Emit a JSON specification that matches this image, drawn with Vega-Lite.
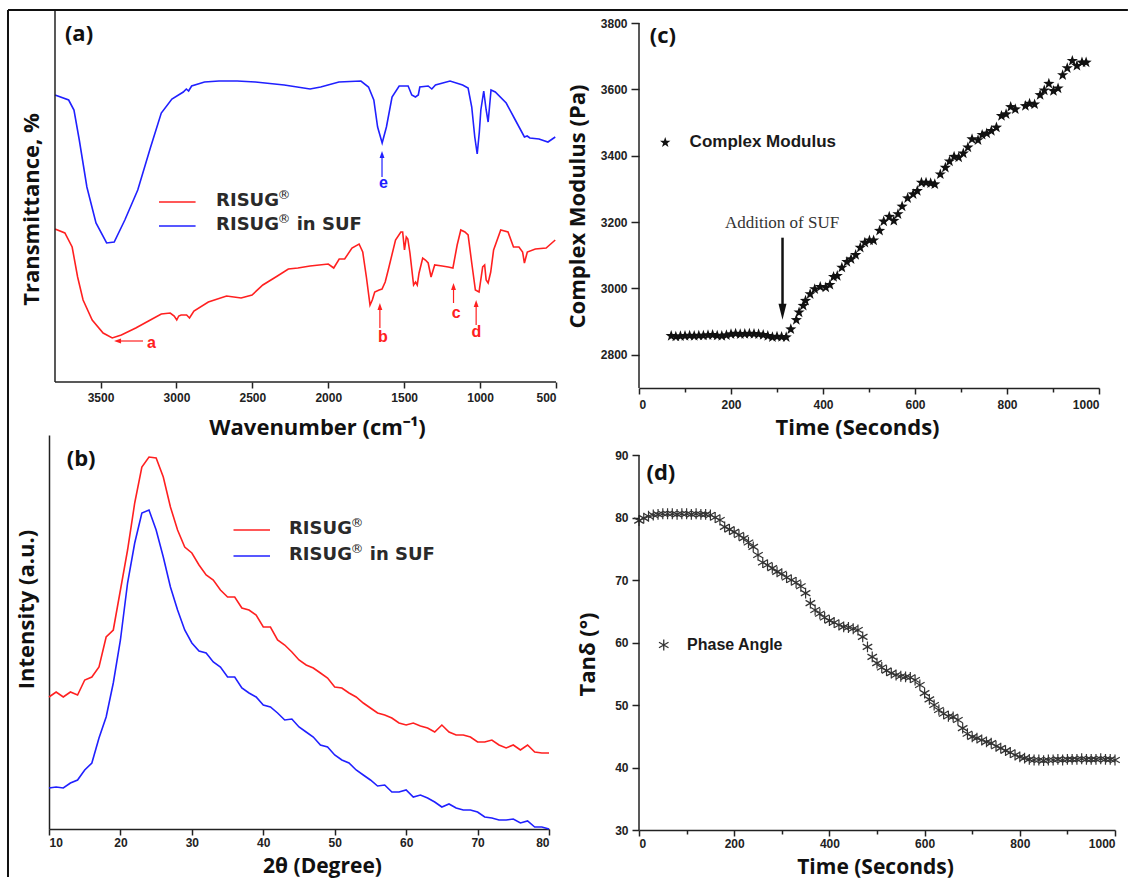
{
"$schema": "https://vega.github.io/schema/vega-lite/v6.json",
"padding": {"left": 6, "top": 9, "right": 0, "bottom": 0},
"background": "white",
"columns": 2,
"bounds": "flush",
"spacing": {"row": 47, "column": 83},
"datasets": {
"ftir": [
{"wn":3800,"v":287,"s":"RISUG® in SUF"},{"wn":3710,"v":282,"s":"RISUG® in SUF"},{"wn":3675,"v":272,"s":"RISUG® in SUF"},{"wn":3640,"v":242,"s":"RISUG® in SUF"},{"wn":3590,"v":195,"s":"RISUG® in SUF"},{"wn":3530,"v":159,"s":"RISUG® in SUF"},{"wn":3460,"v":139,"s":"RISUG® in SUF"},{"wn":3410,"v":140,"s":"RISUG® in SUF"},{"wn":3340,"v":162,"s":"RISUG® in SUF"},{"wn":3255,"v":192,"s":"RISUG® in SUF"},{"wn":3170,"v":235,"s":"RISUG® in SUF"},{"wn":3100,"v":269,"s":"RISUG® in SUF"},{"wn":3030,"v":283,"s":"RISUG® in SUF"},{"wn":2955,"v":290,"s":"RISUG® in SUF"},{"wn":2935,"v":293,"s":"RISUG® in SUF"},{"wn":2920,"v":291,"s":"RISUG® in SUF"},{"wn":2900,"v":296,"s":"RISUG® in SUF"},{"wn":2815,"v":300,"s":"RISUG® in SUF"},{"wn":2720,"v":301,"s":"RISUG® in SUF"},{"wn":2600,"v":301,"s":"RISUG® in SUF"},{"wn":2480,"v":300,"s":"RISUG® in SUF"},{"wn":2290,"v":297,"s":"RISUG® in SUF"},{"wn":2120,"v":293,"s":"RISUG® in SUF"},{"wn":2050,"v":295,"s":"RISUG® in SUF"},{"wn":1930,"v":300,"s":"RISUG® in SUF"},{"wn":1785,"v":301,"s":"RISUG® in SUF"},{"wn":1735,"v":295,"s":"RISUG® in SUF"},{"wn":1700,"v":282,"s":"RISUG® in SUF"},{"wn":1675,"v":255,"s":"RISUG® in SUF"},{"wn":1645,"v":239,"s":"RISUG® in SUF"},{"wn":1617,"v":255,"s":"RISUG® in SUF"},{"wn":1580,"v":285,"s":"RISUG® in SUF"},{"wn":1533,"v":296,"s":"RISUG® in SUF"},{"wn":1474,"v":296,"s":"RISUG® in SUF"},{"wn":1450,"v":287,"s":"RISUG® in SUF"},{"wn":1426,"v":285,"s":"RISUG® in SUF"},{"wn":1407,"v":287,"s":"RISUG® in SUF"},{"wn":1397,"v":295,"s":"RISUG® in SUF"},{"wn":1342,"v":296,"s":"RISUG® in SUF"},{"wn":1318,"v":293,"s":"RISUG® in SUF"},{"wn":1294,"v":297,"s":"RISUG® in SUF"},{"wn":1198,"v":301,"s":"RISUG® in SUF"},{"wn":1115,"v":297,"s":"RISUG® in SUF"},{"wn":1079,"v":294,"s":"RISUG® in SUF"},{"wn":1055,"v":275,"s":"RISUG® in SUF"},{"wn":1035,"v":245,"s":"RISUG® in SUF"},{"wn":1019,"v":228,"s":"RISUG® in SUF"},{"wn":1005,"v":250,"s":"RISUG® in SUF"},{"wn":995,"v":272,"s":"RISUG® in SUF"},{"wn":976,"v":291,"s":"RISUG® in SUF"},{"wn":960,"v":272,"s":"RISUG® in SUF"},{"wn":947,"v":260,"s":"RISUG® in SUF"},{"wn":938,"v":275,"s":"RISUG® in SUF"},{"wn":928,"v":292,"s":"RISUG® in SUF"},{"wn":900,"v":290,"s":"RISUG® in SUF"},{"wn":828,"v":279,"s":"RISUG® in SUF"},{"wn":768,"v":262,"s":"RISUG® in SUF"},{"wn":708,"v":245,"s":"RISUG® in SUF"},{"wn":690,"v":246,"s":"RISUG® in SUF"},{"wn":672,"v":244,"s":"RISUG® in SUF"},{"wn":612,"v":243,"s":"RISUG® in SUF"},{"wn":553,"v":240,"s":"RISUG® in SUF"},{"wn":505,"v":245,"s":"RISUG® in SUF"},
{"wn":3800,"v":153,"s":"RISUG®"},{"wn":3735,"v":149,"s":"RISUG®"},{"wn":3687,"v":135,"s":"RISUG®"},{"wn":3651,"v":105,"s":"RISUG®"},{"wn":3615,"v":82,"s":"RISUG®"},{"wn":3555,"v":62,"s":"RISUG®"},{"wn":3483,"v":49,"s":"RISUG®"},{"wn":3423,"v":44,"s":"RISUG®"},{"wn":3363,"v":47,"s":"RISUG®"},{"wn":3268,"v":54,"s":"RISUG®"},{"wn":3172,"v":62,"s":"RISUG®"},{"wn":3100,"v":68,"s":"RISUG®"},{"wn":3041,"v":69,"s":"RISUG®"},{"wn":3015,"v":66,"s":"RISUG®"},{"wn":2998,"v":62,"s":"RISUG®"},{"wn":2985,"v":66,"s":"RISUG®"},{"wn":2969,"v":67,"s":"RISUG®"},{"wn":2933,"v":67,"s":"RISUG®"},{"wn":2914,"v":64,"s":"RISUG®"},{"wn":2885,"v":71,"s":"RISUG®"},{"wn":2790,"v":80,"s":"RISUG®"},{"wn":2670,"v":86,"s":"RISUG®"},{"wn":2574,"v":84,"s":"RISUG®"},{"wn":2502,"v":87,"s":"RISUG®"},{"wn":2431,"v":97,"s":"RISUG®"},{"wn":2335,"v":106,"s":"RISUG®"},{"wn":2263,"v":113,"s":"RISUG®"},{"wn":2200,"v":114,"s":"RISUG®"},{"wn":2120,"v":116,"s":"RISUG®"},{"wn":2000,"v":118,"s":"RISUG®"},{"wn":1964,"v":114,"s":"RISUG®"},{"wn":1928,"v":123,"s":"RISUG®"},{"wn":1892,"v":123,"s":"RISUG®"},{"wn":1844,"v":134,"s":"RISUG®"},{"wn":1797,"v":138,"s":"RISUG®"},{"wn":1773,"v":130,"s":"RISUG®"},{"wn":1749,"v":105,"s":"RISUG®"},{"wn":1725,"v":77,"s":"RISUG®"},{"wn":1710,"v":82,"s":"RISUG®"},{"wn":1694,"v":90,"s":"RISUG®"},{"wn":1665,"v":92,"s":"RISUG®"},{"wn":1646,"v":93,"s":"RISUG®"},{"wn":1625,"v":100,"s":"RISUG®"},{"wn":1605,"v":112,"s":"RISUG®"},{"wn":1557,"v":142,"s":"RISUG®"},{"wn":1522,"v":150,"s":"RISUG®"},{"wn":1510,"v":150,"s":"RISUG®"},{"wn":1498,"v":132,"s":"RISUG®"},{"wn":1486,"v":145,"s":"RISUG®"},{"wn":1476,"v":143,"s":"RISUG®"},{"wn":1462,"v":129,"s":"RISUG®"},{"wn":1438,"v":97,"s":"RISUG®"},{"wn":1425,"v":100,"s":"RISUG®"},{"wn":1414,"v":97,"s":"RISUG®"},{"wn":1402,"v":109,"s":"RISUG®"},{"wn":1378,"v":124,"s":"RISUG®"},{"wn":1360,"v":122,"s":"RISUG®"},{"wn":1342,"v":119,"s":"RISUG®"},{"wn":1323,"v":105,"s":"RISUG®"},{"wn":1299,"v":117,"s":"RISUG®"},{"wn":1250,"v":116,"s":"RISUG®"},{"wn":1210,"v":115,"s":"RISUG®"},{"wn":1179,"v":114,"s":"RISUG®"},{"wn":1151,"v":137,"s":"RISUG®"},{"wn":1127,"v":152,"s":"RISUG®"},{"wn":1100,"v":150,"s":"RISUG®"},{"wn":1079,"v":147,"s":"RISUG®"},{"wn":1055,"v":119,"s":"RISUG®"},{"wn":1031,"v":92,"s":"RISUG®"},{"wn":1007,"v":90,"s":"RISUG®"},{"wn":983,"v":115,"s":"RISUG®"},{"wn":970,"v":117,"s":"RISUG®"},{"wn":960,"v":102,"s":"RISUG®"},{"wn":947,"v":99,"s":"RISUG®"},{"wn":930,"v":110,"s":"RISUG®"},{"wn":911,"v":132,"s":"RISUG®"},{"wn":864,"v":152,"s":"RISUG®"},{"wn":816,"v":150,"s":"RISUG®"},{"wn":780,"v":135,"s":"RISUG®"},{"wn":744,"v":135,"s":"RISUG®"},{"wn":720,"v":130,"s":"RISUG®"},{"wn":708,"v":119,"s":"RISUG®"},{"wn":689,"v":130,"s":"RISUG®"},{"wn":636,"v":133,"s":"RISUG®"},{"wn":565,"v":134,"s":"RISUG®"},{"wn":505,"v":142,"s":"RISUG®"}
],
"xrd": [
{"deg":10,"v":132,"s":"RISUG®"},{"deg":11,"v":137,"s":"RISUG®"},{"deg":12,"v":132,"s":"RISUG®"},{"deg":13,"v":137,"s":"RISUG®"},{"deg":14,"v":134,"s":"RISUG®"},{"deg":15,"v":149,"s":"RISUG®"},{"deg":16,"v":152,"s":"RISUG®"},{"deg":17,"v":162,"s":"RISUG®"},{"deg":18,"v":192,"s":"RISUG®"},{"deg":19,"v":199,"s":"RISUG®"},{"deg":20,"v":239,"s":"RISUG®"},{"deg":21,"v":279,"s":"RISUG®"},{"deg":22,"v":326,"s":"RISUG®"},{"deg":23,"v":362,"s":"RISUG®"},{"deg":24,"v":372,"s":"RISUG®"},{"deg":25,"v":371,"s":"RISUG®"},{"deg":26,"v":352,"s":"RISUG®"},{"deg":27,"v":322,"s":"RISUG®"},{"deg":28,"v":299,"s":"RISUG®"},{"deg":29,"v":282,"s":"RISUG®"},{"deg":30,"v":276,"s":"RISUG®"},{"deg":31,"v":264,"s":"RISUG®"},{"deg":32,"v":254,"s":"RISUG®"},{"deg":33,"v":249,"s":"RISUG®"},{"deg":34,"v":239,"s":"RISUG®"},{"deg":35,"v":232,"s":"RISUG®"},{"deg":36,"v":232,"s":"RISUG®"},{"deg":37,"v":221,"s":"RISUG®"},{"deg":38,"v":219,"s":"RISUG®"},{"deg":39,"v":214,"s":"RISUG®"},{"deg":40,"v":202,"s":"RISUG®"},{"deg":41,"v":202,"s":"RISUG®"},{"deg":42,"v":189,"s":"RISUG®"},{"deg":43,"v":184,"s":"RISUG®"},{"deg":44,"v":177,"s":"RISUG®"},{"deg":45,"v":169,"s":"RISUG®"},{"deg":46,"v":164,"s":"RISUG®"},{"deg":47,"v":161,"s":"RISUG®"},{"deg":48,"v":156,"s":"RISUG®"},{"deg":49,"v":151,"s":"RISUG®"},{"deg":50,"v":142,"s":"RISUG®"},{"deg":51,"v":141,"s":"RISUG®"},{"deg":52,"v":136,"s":"RISUG®"},{"deg":53,"v":132,"s":"RISUG®"},{"deg":54,"v":126,"s":"RISUG®"},{"deg":55,"v":121,"s":"RISUG®"},{"deg":56,"v":116,"s":"RISUG®"},{"deg":57,"v":114,"s":"RISUG®"},{"deg":58,"v":111,"s":"RISUG®"},{"deg":59,"v":106,"s":"RISUG®"},{"deg":60,"v":104,"s":"RISUG®"},{"deg":61,"v":106,"s":"RISUG®"},{"deg":62,"v":103,"s":"RISUG®"},{"deg":63,"v":101,"s":"RISUG®"},{"deg":64,"v":97,"s":"RISUG®"},{"deg":65,"v":104,"s":"RISUG®"},{"deg":66,"v":97,"s":"RISUG®"},{"deg":67,"v":94,"s":"RISUG®"},{"deg":68,"v":94,"s":"RISUG®"},{"deg":69,"v":92,"s":"RISUG®"},{"deg":70,"v":87,"s":"RISUG®"},{"deg":71,"v":87,"s":"RISUG®"},{"deg":72,"v":89,"s":"RISUG®"},{"deg":73,"v":84,"s":"RISUG®"},{"deg":74,"v":81,"s":"RISUG®"},{"deg":75,"v":84,"s":"RISUG®"},{"deg":76,"v":79,"s":"RISUG®"},{"deg":77,"v":84,"s":"RISUG®"},{"deg":78,"v":77,"s":"RISUG®"},{"deg":79,"v":76,"s":"RISUG®"},{"deg":80,"v":76,"s":"RISUG®"},
{"deg":10,"v":41,"s":"RISUG® in SUF"},{"deg":11,"v":42,"s":"RISUG® in SUF"},{"deg":12,"v":41,"s":"RISUG® in SUF"},{"deg":13,"v":46,"s":"RISUG® in SUF"},{"deg":14,"v":49,"s":"RISUG® in SUF"},{"deg":15,"v":59,"s":"RISUG® in SUF"},{"deg":16,"v":66,"s":"RISUG® in SUF"},{"deg":17,"v":91,"s":"RISUG® in SUF"},{"deg":18,"v":112,"s":"RISUG® in SUF"},{"deg":19,"v":146,"s":"RISUG® in SUF"},{"deg":20,"v":189,"s":"RISUG® in SUF"},{"deg":21,"v":246,"s":"RISUG® in SUF"},{"deg":22,"v":286,"s":"RISUG® in SUF"},{"deg":23,"v":316,"s":"RISUG® in SUF"},{"deg":24,"v":319,"s":"RISUG® in SUF"},{"deg":25,"v":299,"s":"RISUG® in SUF"},{"deg":26,"v":272,"s":"RISUG® in SUF"},{"deg":27,"v":242,"s":"RISUG® in SUF"},{"deg":28,"v":219,"s":"RISUG® in SUF"},{"deg":29,"v":199,"s":"RISUG® in SUF"},{"deg":30,"v":186,"s":"RISUG® in SUF"},{"deg":31,"v":178,"s":"RISUG® in SUF"},{"deg":32,"v":176,"s":"RISUG® in SUF"},{"deg":33,"v":167,"s":"RISUG® in SUF"},{"deg":34,"v":162,"s":"RISUG® in SUF"},{"deg":35,"v":152,"s":"RISUG® in SUF"},{"deg":36,"v":152,"s":"RISUG® in SUF"},{"deg":37,"v":141,"s":"RISUG® in SUF"},{"deg":38,"v":136,"s":"RISUG® in SUF"},{"deg":39,"v":132,"s":"RISUG® in SUF"},{"deg":40,"v":124,"s":"RISUG® in SUF"},{"deg":41,"v":122,"s":"RISUG® in SUF"},{"deg":42,"v":116,"s":"RISUG® in SUF"},{"deg":43,"v":109,"s":"RISUG® in SUF"},{"deg":44,"v":110,"s":"RISUG® in SUF"},{"deg":45,"v":102,"s":"RISUG® in SUF"},{"deg":46,"v":97,"s":"RISUG® in SUF"},{"deg":47,"v":92,"s":"RISUG® in SUF"},{"deg":48,"v":84,"s":"RISUG® in SUF"},{"deg":49,"v":82,"s":"RISUG® in SUF"},{"deg":50,"v":74,"s":"RISUG® in SUF"},{"deg":51,"v":69,"s":"RISUG® in SUF"},{"deg":52,"v":66,"s":"RISUG® in SUF"},{"deg":53,"v":59,"s":"RISUG® in SUF"},{"deg":54,"v":54,"s":"RISUG® in SUF"},{"deg":55,"v":49,"s":"RISUG® in SUF"},{"deg":56,"v":43,"s":"RISUG® in SUF"},{"deg":57,"v":44,"s":"RISUG® in SUF"},{"deg":58,"v":37,"s":"RISUG® in SUF"},{"deg":59,"v":37,"s":"RISUG® in SUF"},{"deg":60,"v":39,"s":"RISUG® in SUF"},{"deg":61,"v":32,"s":"RISUG® in SUF"},{"deg":62,"v":34,"s":"RISUG® in SUF"},{"deg":63,"v":31,"s":"RISUG® in SUF"},{"deg":64,"v":27,"s":"RISUG® in SUF"},{"deg":65,"v":22,"s":"RISUG® in SUF"},{"deg":66,"v":25,"s":"RISUG® in SUF"},{"deg":67,"v":21,"s":"RISUG® in SUF"},{"deg":68,"v":19,"s":"RISUG® in SUF"},{"deg":69,"v":19,"s":"RISUG® in SUF"},{"deg":70,"v":17,"s":"RISUG® in SUF"},{"deg":71,"v":12,"s":"RISUG® in SUF"},{"deg":72,"v":11,"s":"RISUG® in SUF"},{"deg":73,"v":9,"s":"RISUG® in SUF"},{"deg":74,"v":9,"s":"RISUG® in SUF"},{"deg":75,"v":10,"s":"RISUG® in SUF"},{"deg":76,"v":6,"s":"RISUG® in SUF"},{"deg":77,"v":8,"s":"RISUG® in SUF"},{"deg":78,"v":2,"s":"RISUG® in SUF"},{"deg":79,"v":2,"s":"RISUG® in SUF"},{"deg":80,"v":0,"s":"RISUG® in SUF"}
],
"mod": [
{"t":70,"g":2857},{"t":80,"g":2855},{"t":90,"g":2856},{"t":100,"g":2857},{"t":110,"g":2858},{"t":120,"g":2857},{"t":130,"g":2858},{"t":140,"g":2858},{"t":150,"g":2859},{"t":160,"g":2860},{"t":170,"g":2858},{"t":180,"g":2857},{"t":190,"g":2859},{"t":200,"g":2862},{"t":210,"g":2864},{"t":220,"g":2862},{"t":230,"g":2863},{"t":240,"g":2864},{"t":250,"g":2863},{"t":260,"g":2862},{"t":270,"g":2860},{"t":280,"g":2857},{"t":290,"g":2853},{"t":300,"g":2855},{"t":310,"g":2854},{"t":320,"g":2853},
{"t":330,"g":2877},{"t":342,"g":2905},{"t":348,"g":2928},{"t":357,"g":2948},{"t":362,"g":2963},{"t":372,"g":2983},{"t":382,"g":2998},{"t":394,"g":3005},{"t":406,"g":3003},{"t":415,"g":3011},{"t":423,"g":3035},{"t":431,"g":3038},{"t":441,"g":3063},{"t":452,"g":3080},{"t":461,"g":3088},{"t":471,"g":3101},{"t":481,"g":3123},{"t":491,"g":3138},{"t":501,"g":3145},{"t":510,"g":3145},{"t":523,"g":3174},{"t":532,"g":3202},{"t":544,"g":3216},{"t":554,"g":3204},{"t":563,"g":3224},{"t":572,"g":3247},{"t":584,"g":3272},{"t":596,"g":3284},{"t":605,"g":3294},{"t":614,"g":3319},{"t":624,"g":3319},{"t":634,"g":3317},{"t":643,"g":3314},{"t":655,"g":3344},{"t":666,"g":3364},{"t":675,"g":3383},{"t":685,"g":3397},{"t":695,"g":3395},{"t":705,"g":3407},{"t":715,"g":3425},{"t":724,"g":3450},{"t":737,"g":3447},{"t":746,"g":3463},{"t":756,"g":3467},{"t":766,"g":3475},{"t":777,"g":3485},{"t":788,"g":3520},{"t":798,"g":3525},{"t":808,"g":3547},{"t":818,"g":3540},{"t":840,"g":3550},{"t":849,"g":3557},{"t":860,"g":3555},{"t":872,"g":3583},{"t":881,"g":3597},{"t":891,"g":3617},{"t":901,"g":3595},{"t":911,"g":3603},{"t":921,"g":3643},{"t":931,"g":3664},{"t":942,"g":3686},{"t":952,"g":3671},{"t":963,"g":3681},{"t":972,"g":3681}
],
"phase": [
{"t":0,"p":79.5},{"t":10,"p":79.9},{"t":20,"p":80.2},{"t":30,"p":80.4},{"t":40,"p":80.5},{"t":50,"p":80.6},{"t":60,"p":80.6},{"t":70,"p":80.6},{"t":80,"p":80.5},{"t":90,"p":80.6},{"t":100,"p":80.6},{"t":110,"p":80.5},{"t":120,"p":80.6},{"t":130,"p":80.5},{"t":140,"p":80.5},{"t":150,"p":80.4},{"t":160,"p":80.0},{"t":170,"p":79.6},{"t":180,"p":78.5},{"t":190,"p":78.1},{"t":200,"p":77.7},{"t":210,"p":77.2},{"t":220,"p":76.7},{"t":230,"p":76.0},{"t":240,"p":75.3},{"t":250,"p":74.0},{"t":260,"p":72.8},{"t":270,"p":72.4},{"t":280,"p":71.9},{"t":290,"p":71.3},{"t":300,"p":71.0},{"t":310,"p":70.4},{"t":320,"p":70.0},{"t":330,"p":69.6},{"t":340,"p":69.0},{"t":350,"p":67.9},{"t":360,"p":66.3},{"t":370,"p":65.2},{"t":380,"p":64.6},{"t":390,"p":64.0},{"t":400,"p":63.5},{"t":410,"p":63.2},{"t":420,"p":62.8},{"t":430,"p":62.5},{"t":440,"p":62.4},{"t":450,"p":62.2},{"t":460,"p":62.0},{"t":470,"p":60.9},{"t":480,"p":59.3},{"t":490,"p":57.7},{"t":500,"p":56.7},{"t":510,"p":56.0},{"t":520,"p":55.5},{"t":530,"p":55.1},{"t":540,"p":54.8},{"t":550,"p":54.6},{"t":560,"p":54.5},{"t":570,"p":54.4},{"t":580,"p":54.0},{"t":590,"p":53.2},{"t":600,"p":51.9},{"t":610,"p":50.9},{"t":620,"p":50.0},{"t":630,"p":49.2},{"t":640,"p":48.6},{"t":650,"p":48.2},{"t":660,"p":48.1},{"t":670,"p":47.6},{"t":680,"p":46.3},{"t":690,"p":45.4},{"t":700,"p":44.9},{"t":710,"p":44.7},{"t":720,"p":44.4},{"t":730,"p":44.1},{"t":740,"p":43.9},{"t":750,"p":43.4},{"t":760,"p":43.1},{"t":770,"p":42.7},{"t":780,"p":42.4},{"t":790,"p":42.0},{"t":800,"p":41.7},{"t":810,"p":41.5},{"t":820,"p":41.3},{"t":830,"p":41.2},{"t":840,"p":41.2},{"t":850,"p":41.1},{"t":860,"p":41.2},{"t":870,"p":41.2},{"t":880,"p":41.3},{"t":890,"p":41.2},{"t":900,"p":41.3},{"t":910,"p":41.3},{"t":920,"p":41.3},{"t":930,"p":41.4},{"t":940,"p":41.3},{"t":950,"p":41.3},{"t":960,"p":41.3},{"t":970,"p":41.4},{"t":980,"p":41.3},{"t":990,"p":41.3},{"t":1000,"p":41.2}
]
},
"concat": [
{
"width": 507, "height": 371,
"layer": [
{"data": {"name": "ftir"}, "mark": {"type": "line", "strokeWidth": 1.6},
 "encoding": {
  "x": {"field": "wn", "type": "quantitative", "scale": {"domain": [500, 3839.5], "reverse": true, "nice": false, "zero": false},
   "axis": {"values": [3750,3500,3250,3000,2750,2500,2250,2000,1750,1500,1250,1000,750,500], "format": "d", "labelExpr": "datum.value % 500 === 0 ? datum.label : ''", "tickSize": {"condition": {"test": "datum.value % 500 === 0", "value": 6}, "value": 4}, "domain": false, "labelPadding": 4, "title": "Wavenumber (cm⁻¹)", "titleX": 268, "titleY": 45, "titleBaseline": "middle", "titleAlign": "center"}},
  "y": {"field": "v", "type": "quantitative", "scale": {"domain": [0, 371], "nice": false, "zero": false},
   "axis": {"domain": false, "ticks": false, "labels": false, "title": "Transmittance, %", "titleX": -18, "titleY": 198, "titleBaseline": "middle", "titleAlign": "center", "titleAngle": -90}},
  "color": {"field": "s", "type": "nominal", "scale": {"domain": ["RISUG®", "RISUG® in SUF"], "range": ["#ff2020", "#2020ff"]}, "legend": null}
 }},
{"data": {"values": [{}]}, "mark": {"type": "rule", "color": "#222", "strokeWidth": 1.5}, "encoding": {"x": {"datum": 3800}, "y": {"datum": 0}, "y2": {"datum": 371}}},
{"data": {"values": [{}]}, "mark": {"type": "rule", "color": "#222", "strokeWidth": 1.5}, "encoding": {"x": {"datum": 3800}, "x2": {"datum": 500}, "y": {"datum": 0}}},
{"data": {"values": [{}]}, "mark": {"type": "rule", "color": "#111", "strokeWidth": 2, "clip": false}, "encoding": {"x": {"datum": 4109.6}, "y": {"datum": 372}, "y2": {"datum": -495}}},
{"data": {"values": [{}]}, "mark": {"type": "rule", "color": "#111", "strokeWidth": 2, "clip": false}, "encoding": {"x": {"datum": 4109.6}, "x2": {"datum": -3267}, "y": {"datum": 372}}},
{"data": {"values": [{"x":3220,"x2":3388,"y":41,"y2":41,"s":"RISUG®"},{"x":1660,"x2":1660,"y":54,"y2":75.5,"s":"RISUG®"},{"x":1175,"x2":1175,"y":79,"y2":95.5,"s":"RISUG®"},{"x":1026,"x2":1026,"y":57,"y2":78.5,"s":"RISUG®"},{"x":1646,"x2":1646,"y":205,"y2":227.5,"s":"RISUG® in SUF"}]},
 "mark": {"type": "rule", "strokeWidth": 1.2},
 "encoding": {"x": {"field": "x", "type": "quantitative"}, "x2": {"field": "x2"}, "y": {"field": "y", "type": "quantitative"}, "y2": {"field": "y2"}, "color": {"field": "s", "type": "nominal", "legend": null}}},
{"data": {"values": [{"x":3388,"y":41,"dir":"left","s":"RISUG®"},{"x":1660,"y":75.5,"dir":"up","s":"RISUG®"},{"x":1175,"y":95.5,"dir":"up","s":"RISUG®"},{"x":1026,"y":78.5,"dir":"up","s":"RISUG®"},{"x":1646,"y":227.5,"dir":"up","s":"RISUG® in SUF"}]},
 "mark": {"type": "point", "filled": true, "size": 49, "opacity": 1},
 "encoding": {"x": {"field": "x", "type": "quantitative"}, "y": {"field": "y", "type": "quantitative"}, "color": {"field": "s", "type": "nominal", "legend": null},
  "shape": {"field": "dir", "type": "nominal", "scale": {"domain": ["left", "up"], "range": ["M-1,0L1,-0.7L1,0.7Z", "M0,-1L0.7,1L-0.7,1Z"]}, "legend": null}}},
{"data": {"values": [{"x":3164,"y":39,"label":"a","s":"RISUG®"},{"x":1641,"y":45,"label":"b","s":"RISUG®"},{"x":1158,"y":69,"label":"c","s":"RISUG®"},{"x":1024,"y":50,"label":"d","s":"RISUG®"},{"x":1636,"y":199,"label":"e","s":"RISUG® in SUF"}]},
 "mark": {"type": "text", "font": "Liberation Sans", "fontWeight": "bold", "fontSize": 16, "align": "center", "baseline": "middle"},
 "encoding": {"x": {"field": "x", "type": "quantitative"}, "y": {"field": "y", "type": "quantitative"}, "text": {"field": "label"}, "color": {"field": "s", "type": "nominal", "legend": null}}},
{"data": {"values": [{"x":3115,"x2":2874,"y":180,"s":"RISUG®"},{"x":3115,"x2":2874,"y":156,"s":"RISUG® in SUF"}]},
 "mark": {"type": "rule", "strokeWidth": 1.6},
 "encoding": {"x": {"field": "x", "type": "quantitative"}, "x2": {"field": "x2"}, "y": {"field": "y", "type": "quantitative"}, "color": {"field": "s", "type": "nominal", "legend": null}}},
{"data": {"values": [{"x":2739,"y":181,"label":"RISUG"},{"x":2739,"y":157,"label":"RISUG"},{"x":2208,"y":157,"label":"in SUF"}]},
 "mark": {"type": "text", "font": "DejaVu Sans", "fontWeight": "bold", "fontSize": 18, "align": "left", "baseline": "middle", "color": "#2a2a2a"},
 "encoding": {"x": {"field": "x", "type": "quantitative"}, "y": {"field": "y", "type": "quantitative"}, "text": {"field": "label"}}},
{"data": {"values": [{"x":2334,"y":187},{"x":2334,"y":163}]},
 "mark": {"type": "text", "text": "®", "font": "DejaVu Sans", "fontSize": 13, "align": "left", "baseline": "middle", "color": "#2a2a2a"},
 "encoding": {"x": {"field": "x", "type": "quantitative"}, "y": {"field": "y", "type": "quantitative"}}},
{"data": {"values": [{"x":3642,"y":348,"label":"(a)"}]},
 "mark": {"type": "text", "font": "Open Sans", "fontWeight": "bold", "fontSize": 22, "align": "center", "baseline": "middle", "color": "#111"},
 "encoding": {"x": {"field": "x", "type": "quantitative"}, "y": {"field": "y", "type": "quantitative"}, "text": {"field": "label"}}}
]
},
{
"width": 460, "height": 377,
"layer": [
{"data": {"name": "mod"},
 "mark": {"type": "point", "shape": "M0,-1L0.235,-0.324L0.951,-0.309L0.38,0.124L0.588,0.809L0,0.4L-0.588,0.809L-0.38,0.124L-0.951,-0.309L-0.235,-0.324Z", "filled": true, "size": 140, "color": "#111", "opacity": 1},
 "encoding": {
  "x": {"field": "t", "type": "quantitative", "scale": {"domain": [0, 1000], "nice": false},
   "axis": {"values": [0,100,200,300,400,500,600,700,800,900,1000], "format": "d", "labelExpr": "datum.value % 200 === 0 ? datum.label : ''", "tickSize": {"condition": {"test": "datum.value % 200 === 0", "value": 6}, "value": 4}, "labelPadding": 5, "title": "Time (Seconds)", "titleX": 218, "titleY": 39, "titleBaseline": "middle", "titleAlign": "center"}},
  "y": {"field": "g", "type": "quantitative", "scale": {"domain": [2700, 3836.2], "nice": false, "zero": false},
   "axis": {"values": [2800,2900,3000,3100,3200,3300,3400,3500,3600,3700,3800], "format": "d", "labelExpr": "datum.value % 200 === 0 ? datum.label : ''", "tickSize": {"condition": {"test": "datum.value % 200 === 0", "value": 8}, "value": 4}, "domain": false, "labelPadding": 4, "title": "Complex Modulus (Pa)", "titleX": -62, "titleY": 195, "titleBaseline": "middle", "titleAlign": "center", "titleAngle": -90}}
 }},
{"data": {"values": [{}]}, "mark": {"type": "rule", "color": "#222", "strokeWidth": 1.5}, "encoding": {"x": {"datum": 0}, "y": {"datum": 2700}, "y2": {"datum": 3800}}},
{"data": {"values": [{"t":312,"y":3153,"y2":2935}]}, "mark": {"type": "rule", "color": "#111", "strokeWidth": 2.5},
 "encoding": {"x": {"field": "t", "type": "quantitative"}, "y": {"field": "y", "type": "quantitative"}, "y2": {"field": "y2"}}},
{"data": {"values": [{"t":312,"y":2930}]}, "mark": {"type": "point", "shape": "M-0.5,-1L0.5,-1L0,1Z", "filled": true, "size": 256, "color": "#111", "opacity": 1},
 "encoding": {"x": {"field": "t", "type": "quantitative"}, "y": {"field": "y", "type": "quantitative"}}},
{"data": {"values": [{"t":311,"y":3196,"label":"Addition of SUF"}]},
 "mark": {"type": "text", "font": "Liberation Serif", "fontSize": 17, "align": "center", "baseline": "middle", "color": "#333"},
 "encoding": {"x": {"field": "t", "type": "quantitative"}, "y": {"field": "y", "type": "quantitative"}, "text": {"field": "label"}}},
{"data": {"values": [{"t":57,"y":3440}]},
 "mark": {"type": "point", "shape": "M0,-1L0.235,-0.324L0.951,-0.309L0.38,0.124L0.588,0.809L0,0.4L-0.588,0.809L-0.38,0.124L-0.951,-0.309L-0.235,-0.324Z", "filled": true, "size": 120, "color": "#111", "opacity": 1},
 "encoding": {"x": {"field": "t", "type": "quantitative"}, "y": {"field": "y", "type": "quantitative"}}},
{"data": {"values": [{"t":110,"y":3440,"label":"Complex Modulus"}]},
 "mark": {"type": "text", "font": "Liberation Sans", "fontWeight": "bold", "fontSize": 17, "align": "left", "baseline": "middle", "color": "#1a1a1a"},
 "encoding": {"x": {"field": "t", "type": "quantitative"}, "y": {"field": "y", "type": "quantitative"}, "text": {"field": "label"}}},
{"data": {"values": [{"t":52,"y":3761,"label":"(c)"}]},
 "mark": {"type": "text", "font": "Open Sans", "fontWeight": "bold", "fontSize": 22, "align": "center", "baseline": "middle", "color": "#111"},
 "encoding": {"x": {"field": "t", "type": "quantitative"}, "y": {"field": "y", "type": "quantitative"}, "text": {"field": "label"}}}
]
},
{
"width": 500, "height": 394,
"layer": [
{"data": {"name": "xrd"}, "mark": {"type": "line", "strokeWidth": 1.6},
 "encoding": {
  "x": {"field": "deg", "type": "quantitative", "scale": {"domain": [10, 80], "nice": false, "zero": false},
   "axis": {"values": [10,15,20,25,30,35,40,45,50,55,60,65,70,75,80], "format": "d", "labelExpr": "datum.value % 10 === 0 ? datum.label : ''", "tickSize": {"condition": {"test": "datum.value % 10 === 0", "value": 6}, "value": 4}, "labelPadding": 2, "title": "2θ (Degree)", "titleFontSize": 21, "titleX": 273, "titleY": 37, "titleBaseline": "middle", "titleAlign": "center"}},
  "y": {"field": "v", "type": "quantitative", "scale": {"domain": [0, 394], "nice": false, "zero": false},
   "axis": {"ticks": false, "labels": false, "title": "Intensity (a.u.)", "titleX": -22.5, "titleY": 174, "titleBaseline": "middle", "titleAlign": "center", "titleAngle": -90}},
  "color": {"field": "s", "type": "nominal", "scale": {"domain": ["RISUG®", "RISUG® in SUF"], "range": ["#ff2020", "#2020ff"]}, "legend": null}
 }},
{"data": {"values": [{"x":35.83,"x2":40.94,"y":299,"s":"RISUG®"},{"x":35.83,"x2":40.94,"y":273,"s":"RISUG® in SUF"}]},
 "mark": {"type": "rule", "strokeWidth": 1.6},
 "encoding": {"x": {"field": "x", "type": "quantitative"}, "x2": {"field": "x2"}, "y": {"field": "y", "type": "quantitative"}, "color": {"field": "s", "type": "nominal", "legend": null}}},
{"data": {"values": [{"x":43.6,"y":300,"label":"RISUG"},{"x":43.6,"y":274,"label":"RISUG"},{"x":54.9,"y":274,"label":"in SUF"}]},
 "mark": {"type": "text", "font": "DejaVu Sans", "fontWeight": "bold", "fontSize": 18, "align": "left", "baseline": "middle", "color": "#2a2a2a"},
 "encoding": {"x": {"field": "x", "type": "quantitative"}, "y": {"field": "y", "type": "quantitative"}, "text": {"field": "label"}}},
{"data": {"values": [{"x":52.2,"y":306},{"x":52.2,"y":280}]},
 "mark": {"type": "text", "text": "®", "font": "DejaVu Sans", "fontSize": 13, "align": "left", "baseline": "middle", "color": "#2a2a2a"},
 "encoding": {"x": {"field": "x", "type": "quantitative"}, "y": {"field": "y", "type": "quantitative"}}},
{"data": {"values": [{"x":14.5,"y":370,"label":"(b)"}]},
 "mark": {"type": "text", "font": "Open Sans", "fontWeight": "bold", "fontSize": 22, "align": "center", "baseline": "middle", "color": "#111"},
 "encoding": {"x": {"field": "x", "type": "quantitative"}, "y": {"field": "y", "type": "quantitative"}, "text": {"field": "label"}}}
]
},
{
"width": 476, "height": 395,
"layer": [
{"data": {"name": "phase"},
 "mark": {"type": "point", "shape": "M0,-1L0,1M-0.87,-0.5L0.87,0.5M-0.87,0.5L0.87,-0.5", "filled": false, "size": 120, "color": "#333", "strokeWidth": 1.2, "opacity": 1},
 "encoding": {
  "x": {"field": "t", "type": "quantitative", "scale": {"domain": [0, 1000], "nice": false},
   "axis": {"values": [0,100,200,300,400,500,600,700,800,900,1000], "format": "d", "labelExpr": "datum.value % 200 === 0 ? datum.label : ''", "tickSize": {"condition": {"test": "datum.value % 200 === 0", "value": 6}, "value": 4}, "labelPadding": 2, "title": "Time (Seconds)", "titleFontSize": 21, "titleX": 236, "titleY": 37, "titleBaseline": "middle", "titleAlign": "center"}},
  "y": {"field": "p", "type": "quantitative", "scale": {"domain": [30, 93.2], "nice": false, "zero": false},
   "axis": {"values": [30,35,40,45,50,55,60,65,70,75,80,85,90], "format": "d", "labelExpr": "datum.value % 10 === 0 ? datum.label : ''", "tickSize": {"condition": {"test": "datum.value % 10 === 0", "value": 7}, "value": 4}, "domain": false, "labelPadding": 4, "title": "Tanδ (°)", "titleX": -52, "titleY": 219, "titleBaseline": "middle", "titleAlign": "center", "titleAngle": -90}}
 }},
{"data": {"values": [{}]}, "mark": {"type": "rule", "color": "#222", "strokeWidth": 1.5}, "encoding": {"x": {"datum": 0}, "y": {"datum": 30}, "y2": {"datum": 90}}},
{"data": {"values": [{"t":52,"y":59.6}]},
 "mark": {"type": "point", "shape": "M0,-1L0,1M-0.87,-0.5L0.87,0.5M-0.87,0.5L0.87,-0.5", "filled": false, "size": 120, "color": "#333", "strokeWidth": 1.3, "opacity": 1},
 "encoding": {"x": {"field": "t", "type": "quantitative"}, "y": {"field": "y", "type": "quantitative"}}},
{"data": {"values": [{"t":101,"y":59.6,"label":"Phase Angle"}]},
 "mark": {"type": "text", "font": "Liberation Sans", "fontWeight": "bold", "fontSize": 16, "align": "left", "baseline": "middle", "color": "#1a1a1a"},
 "encoding": {"x": {"field": "t", "type": "quantitative"}, "y": {"field": "y", "type": "quantitative"}, "text": {"field": "label"}}},
{"data": {"values": [{"t":46,"y":87.1,"label":"(d)"}]},
 "mark": {"type": "text", "font": "Open Sans", "fontWeight": "bold", "fontSize": 22, "align": "center", "baseline": "middle", "color": "#111"},
 "encoding": {"x": {"field": "t", "type": "quantitative"}, "y": {"field": "y", "type": "quantitative"}, "text": {"field": "label"}}}
]
}
],
"config": {
 "view": {"stroke": null},
 "axis": {"labelFont": "Liberation Sans", "labelFontWeight": "bold", "labelFontSize": 12, "labelColor": "#222", "titleFont": "Open Sans", "titleFontWeight": "bold", "titleFontSize": 22, "titleColor": "#111", "domainColor": "#222", "domainWidth": 1.5, "tickColor": "#222", "tickWidth": 1.5, "grid": false, "labelOverlap": false}
}
}
